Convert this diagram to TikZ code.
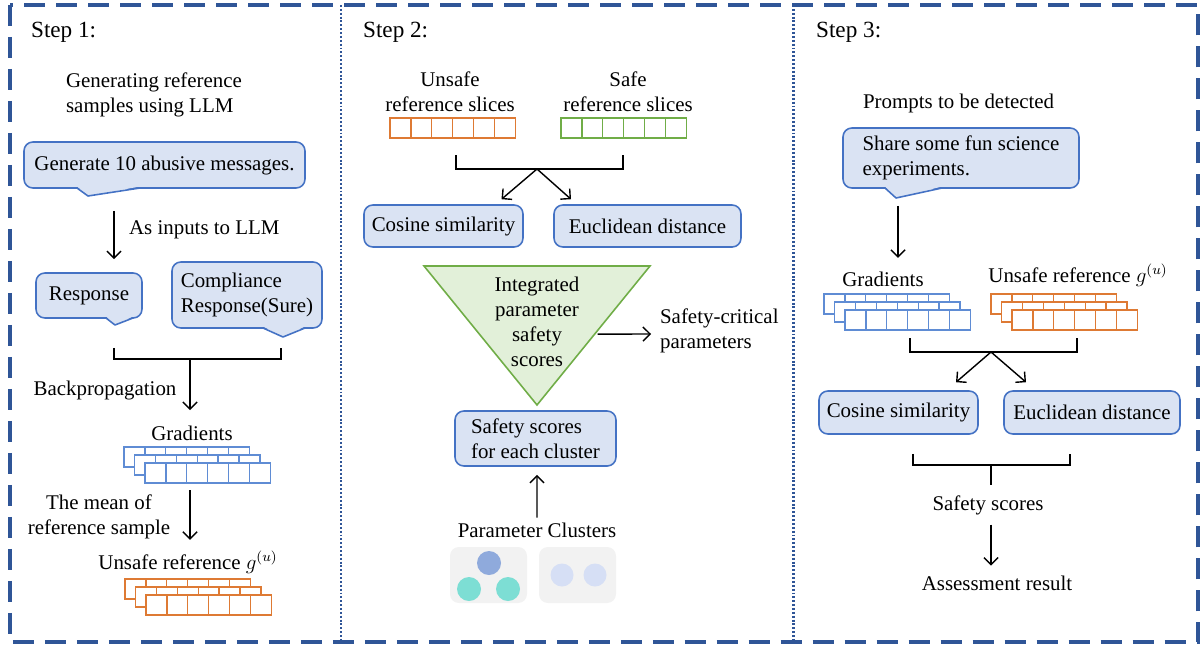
\documentclass[tikz,border=0pt]{standalone}
\usepackage{fontspec}
\setmainfont{Liberation Serif}
\usetikzlibrary{arrows.meta, positioning, calc}
\definecolor{framecol}{RGB}{47, 85, 151}
\definecolor{boxline}{RGB}{68, 114, 196}
\definecolor{boxfill}{RGB}{218, 227, 243}
\definecolor{gradcell}{RGB}{95, 140, 212}
\definecolor{orangecell}{RGB}{222, 122, 52}
\definecolor{greencell}{RGB}{112, 173, 71}
\definecolor{trifill}{RGB}{226, 240, 217}
\definecolor{clusterbg}{RGB}{242, 242, 242}
\definecolor{dotdark}{RGB}{143, 170, 220}
\definecolor{dotteal}{RGB}{125, 222, 212}
\definecolor{dotlight}{RGB}{214, 223, 245}
\tikzset{
    txt/.style={inner sep=1pt, font=\fontsize{11.9}{14.2}\selectfont},
    steplbl/.style={inner sep=1pt, anchor=west, font=\fontsize{13.2}{15}\selectfont},
    box/.style={rectangle, rounded corners=5pt, draw=boxline, fill=boxfill,
        line width=0.9pt, font=\fontsize{11.9}{14.2}\selectfont},
    arrow/.style={line width=0.8pt, -{Straight Barb[length=4pt, width=8pt]}},
    brace/.style={line width=0.8pt},
    frame/.style={framecol, line width=2.1pt, dash pattern=on 0.42cm off 0.22cm},
    divider/.style={framecol, line width=1.7pt, dash pattern=on 1.1pt off 1.1pt},
    clbox/.style={rectangle, rounded corners=5pt, fill=clusterbg,
        minimum width=1.54cm, minimum height=1.12cm}
}
% one row of six cells, #1 = left, #2 = top, #3 = colour
\newcommand{\cellrow}[3]{%
  \foreach \k in {0,...,5}
    \draw[#3, fill=white, line width=0.7pt] ({#1+\k*20.9},{#2}) rectangle ++(20.9,20);%
}
% three rows stacked behind each other
\newcommand{\cellstack}[3]{%
  \cellrow{#1-21}{#2-16}{#3}
  \cellrow{#1-10.5}{#2-8}{#3}
  \cellrow{#1}{#2}{#3}%
}
% pointer of a speech box
\newcommand{\calltail}[3]{%
  \fill[boxfill] ($(#1)+(0,-1.5)$) -- (#2) -- ($(#3)+(0,-1.5)$) -- cycle;
  \draw[boxline, line width=0.9pt, line join=round] (#1) -- (#2) -- (#3);%
}

\begin{document}
\begin{tikzpicture}[x=0.02cm, y=-0.02cm]
    \useasboundingbox (0,0) rectangle (1202,646);
    % Frame
    \draw[frame] (10,5) rectangle (1198,642);
    \draw[divider] (341,5) -- (341,642);
    \draw[divider] (793,5) -- (793,642);

    % Step 1
    \node[steplbl] (s1) at (29,32) {Step 1:};
    \node[txt, align=left, anchor=west] (genlbl) at (64,95) {Generating reference\\samples using LLM};
    \node[box, minimum width=5.62cm, minimum height=0.92cm] (gen) at (164.5,165) {Generate 10 abusive messages.};
    \calltail{77,188}{88,196}{140,188}
    \node[txt, anchor=west] (inputs) at (127,230) {As inputs to LLM};
    \node[box, minimum width=2.12cm, minimum height=0.9cm] (resp) at (89,295.5) {Response};
    \calltail{106,318}{115,325}{133,318}
    \node[box, align=left, minimum width=3cm, minimum height=1.32cm] (comp) at (247,295) {Compliance\\Response(Sure)};
    \calltail{263,328}{283,337}{305,328}
    \coordinate (br1m) at (190,359);
    \node[txt] (backprop) at (105,390) {Backpropagation};
    \node[txt] (gradlbl1) at (192,433) {Gradients};
    \cellstack{145}{463}{gradcell}
    \coordinate (grad1) at (190,483);
    \node[txt, align=center] (mean) at (99,517) {The mean of\\reference sample};
    \node[txt] (unsafelbl1) at (188,562) {Unsafe reference $g^{(u)}$};
    \cellstack{146}{595}{orangecell}

    \draw[arrow] ($(gen.south)+(-50.5,22)$) -- ($(resp.north)+(25,-13)$);
    \draw[brace] ($(resp.south)+(25,29)$) |- (br1m) -| ($(comp.south)+(34,19)$);
    \draw[arrow] (br1m) -- ++(0,51);
    \draw[arrow] ($(grad1)+(0,7)$) -- ($(unsafelbl1.north)+(2,-9)$);

    % Step 2
    \node[steplbl] (s2) at (361,32) {Step 2:};
    \node[txt, align=center] (unsafelbl2) at (450,92) {Unsafe\\reference slices};
    \node[txt, align=center] (safelbl2) at (628,92) {Safe\\reference slices};
    \cellrow{390}{118}{orangecell}
    \cellrow{561}{118}{greencell}
    \coordinate (uslc) at (453,138);
    \coordinate (sslc) at (624.5,138);
    \coordinate (br2m) at (537,169);
    \node[box, minimum width=3.18cm, minimum height=0.84cm] (cos2) at (443.5,226) {Cosine similarity};
    \node[box, minimum width=3.74cm, minimum height=0.84cm] (euc2) at (647.5,226) {Euclidean distance};
    \coordinate (triL) at (424,266);
    \coordinate (triR) at (650,266);
    \coordinate (triB) at (537,405);
    \draw[greencell, fill=trifill, line width=0.9pt] (triL) -- (triR) -- (triB) -- cycle;
    \node[txt, align=center] (integ) at (537,322) {Integrated\\parameter\\safety\\scores};
    \node[txt, align=left, anchor=west] (crit) at (658,331) {Safety-critical\\parameters};
    \node[box, align=left, minimum width=3.22cm, minimum height=1.1cm] (clus) at (535.5,438.5) {Safety scores\\for each cluster};
    \node[txt] (pclus) at (537,530) {Parameter Clusters};
    \node[clbox] (cl1) at (488.5,575) {};
    \node[clbox] (cl2) at (577.5,575) {};
    \fill[dotdark] (489,563) circle (0.24cm);
    \fill[dotteal] (469,589) circle (0.24cm);
    \fill[dotteal] (508,589) circle (0.24cm);
    \fill[dotlight] (562,575) circle (0.23cm);
    \fill[dotlight] (595,575) circle (0.23cm);

    \draw[brace] ($(uslc)+(3,17)$) |- (br2m) -| ($(sslc)+(-1.5,17)$);
    \draw[arrow] (br2m) -- ($(cos2.north)+(58,-5)$);
    \draw[arrow] (br2m) -- ($(euc2.north)+(-76.5,-5)$);
    \draw[arrow] ($(triR)!0.49!(triB)+(3,0)$) -- ($(crit.west)+(-7,3)$);
    \draw[arrow] ($(pclus.north)+(0,-3)$) -- ($(clus.south)+(1.5,8)$);

    % Step 3
    \node[steplbl] (s3) at (814,32) {Step 3:};
    \node[txt, anchor=west] (prompt) at (861,103) {Prompts to be detected};
    \node[box, align=left, minimum width=4.72cm, minimum height=1.2cm] (share) at (961,158) {Share some fun science\\experiments.};
    \calltail{885,188}{896,198}{942,188}
    \node[txt] (gradlbl3) at (883,279) {Gradients};
    \node[txt] (unsafelbl3) at (1078,275) {Unsafe reference $g^{(u)}$};
    \cellstack{845}{310}{gradcell}
    \cellstack{1012}{310}{orangecell}
    \coordinate (grad3) at (907.5,331);
    \coordinate (unsafe3) at (1075,331);
    \coordinate (br3m) at (991,352);
    \node[box, minimum width=3.18cm, minimum height=0.86cm] (cos3) at (898.5,412.5) {Cosine similarity};
    \node[box, minimum width=3.52cm, minimum height=0.86cm] (euc3) at (1092,412.5) {Euclidean distance};
    \coordinate (br4m) at (991,465);
    \node[txt] (sscore) at (988,505) {Safety scores};
    \node[txt] (assess) at (997,583) {Assessment result};

    \draw[arrow] ($(share.south)+(-63,17)$) -- ++(0,52);
    \draw[brace] ($(grad3)+(2.5,7)$) |- (br3m) -| ($(unsafe3)+(2,7)$);
    \draw[arrow] (br3m) -- ($(cos3.north)+(57.5,-8)$);
    \draw[arrow] (br3m) -- ($(euc3.north)+(-66,-8)$);
    \draw[brace] ($(cos3.south)+(14.5,19)$) |- (br4m) -| ($(euc3.south)+(-22,19)$);
    \draw[brace] (br4m) -- ++(0,20);
    \draw[arrow] ($(sscore.south)+(3,8)$) -- ($(assess.north)+(-6,-8)$);
\end{tikzpicture}
\end{document}
